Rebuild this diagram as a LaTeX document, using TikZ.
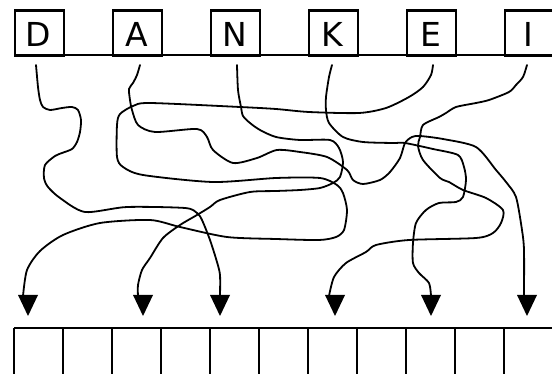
\documentclass[tikz,border=0pt]{standalone}
\usepackage{fontspec}
\setmainfont{DejaVu Sans}
\begin{document}
\begin{tikzpicture}[x=1pt,y=-1pt,
  boxline/.style={line width=2.2pt},
  cellbox/.style={draw, line width=2.2pt, minimum width=49pt, minimum height=45.5pt, inner sep=0pt, anchor=north west},
  letter/.style={inner sep=0pt, font=\fontsize{33}{33}\selectfont},
  wire/.style={line width=1.8pt, line join=round, line cap=round},
  head/.style={fill=black}]
\useasboundingbox (0,0) rectangle (552,374);
% top boxes
\node[cellbox] (bD) at (14,9.5) {};
\node[cellbox] (bA) at (112,9.5) {};
\node[cellbox] (bN) at (210,9.5) {};
\node[cellbox] (bK) at (308,9.5) {};
\node[cellbox] (bE) at (406,9.5) {};
\node[cellbox] (bI) at (504,9.5) {};
\node[letter] (D) at (38.5,34.5) {D};
\node[letter] (A) at (136.5,34.5) {A};
\node[letter] (N) at (234.5,34.5) {N};
\node[letter] (K) at (332.5,34.5) {K};
\node[letter] (E) at (430.5,34.5) {E};
\node[letter] (I) at (528.5,34.5) {I};
\draw[boxline] (14,55) -- (554,55);
% bottom row
\draw[boxline] (14,328) -- (554,328);
\foreach \i in {0,...,10} \draw[boxline] (14+49*\i,328) -- (14+49*\i,378);
% arrow heads
\foreach \n/\x in {1/28,2/143,3/220,4/335,5/431,6/527} {
  \coordinate (t\n) at (\x,316);
  \fill[head] (t\n) -- ++(-10,-21) -- ++(20,0) -- cycle;
}
% start and end points
\coordinate (sD) at (36,65);
\coordinate (sA) at (140,65);
\coordinate (sN) at (237,65);
\coordinate (sK) at (332,65);
\coordinate (sE) at (433,65);
\coordinate (sI) at (527,65);
\coordinate (eD) at (220,296);
\coordinate (eA) at (524,296);
\coordinate (eN) at (138,296);
\coordinate (eK) at (431,296);
\coordinate (eE) at (23,296);
\coordinate (eI) at (329,296);
% wires
\draw[wire] plot[smooth, tension=0.45] coordinates {(sD) (38,87) (40,100) (43,107) (50,110) (62,108) (72,107) (78,110) (81,120) (80,132) (77,142) (72,149) (62,153) (55,156) (45,165) (44,178) (48,187) (60,198) (85,212) (127,207) (185,208) (197,213) (202,220) (210,240) (217,262) (220,275) (eD)};
\draw[wire] plot[smooth, tension=0.45] coordinates {(sA) (137,75) (133,83) (129,89) (130,100) (132,110) (138,125) (155,132) (197,129) (207,137) (213,150) (233,163) (257,158) (277,150) (300,152) (327,157) (347,170) (353,180) (363,184) (380,180) (390,172) (400,158) (405,143) (412,137) (420,136) (443,139) (476,147) (496,170) (506,182) (516,197) (522,230) (524,250) (eA)};
\draw[wire] plot[smooth, tension=0.45] coordinates {(sN) (238,90) (241,107) (243,116) (250,123) (260,130) (276,137) (300,140) (330,140) (339,148) (343,162) (340,177) (333,183) (320,188) (300,190) (276,191) (250,192) (220,200) (210,207) (197,215) (180,225) (163,238) (150,258) (142,270) (138,285) (eN)};
\draw[wire] plot[smooth, tension=0.45] coordinates {(sK) (329,77) (326,97) (326,110) (329,123) (343,137) (363,142) (393,143) (405,143) (433,149) (458,155) (464,167) (466,180) (463,197) (456,202) (439,203) (426,210) (416,223) (413,243) (413,263) (419,273) (429,283) (eK)};
\draw[wire] plot[smooth, tension=0.45] coordinates {(sE) (431,75) (423,87) (409,97) (386,108) (359,113) (309,112) (276,109) (240,107) (150,103) (133,106) (120,114) (117,125) (117,157) (123,167) (143,175) (213,182) (276,178) (320,178) (337,185) (343,193) (347,210) (344,230) (336,237) (319,240) (276,239) (227,237) (180,227) (150,220) (100,223) (63,235) (40,251) (27,270) (eE)};
\draw[wire] plot[smooth, tension=0.45] coordinates {(sI) (523,77) (516,85) (509,92) (489,100) (476,103) (456,107) (446,113) (439,117) (423,125) (420,137) (418,146) (423,160) (440,178) (449,182) (463,190) (486,198) (503,210) (501,223) (493,233) (476,238) (409,240) (376,245) (366,252) (346,263) (334,277) (eI)};
\end{tikzpicture}
\end{document}
